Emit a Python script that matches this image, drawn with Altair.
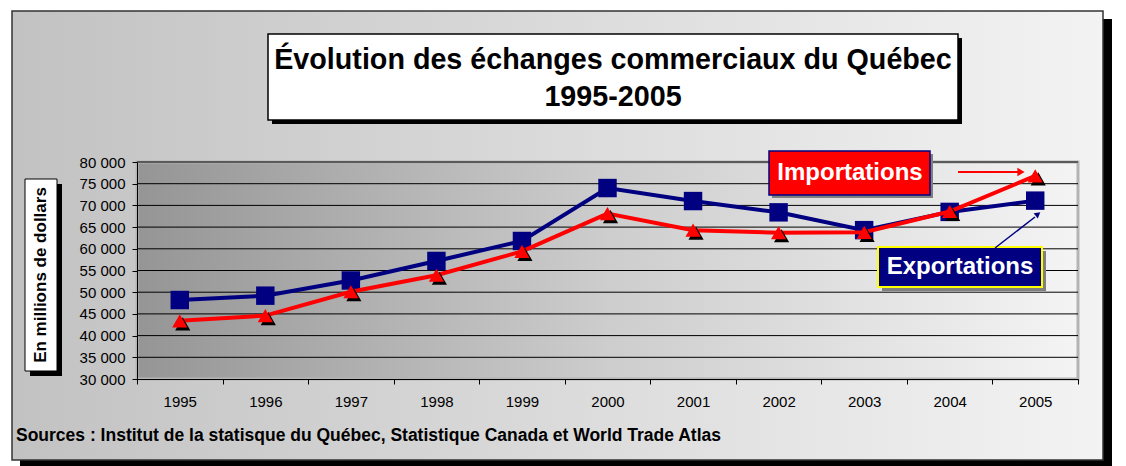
import altair as alt
import pandas as pd

# ---------------- data ----------------
YEARS = ["1995", "1996", "1997", "1998", "1999", "2000", "2001", "2002", "2003", "2004", "2005"]
EXPORTATIONS = [48200, 49200, 52700, 57200, 61800, 74000, 71000, 68400, 64300, 68500, 71100]
IMPORTATIONS = [43400, 44600, 50100, 53900, 59400, 68100, 64300, 63700, 63800, 68600, 76800]
SERIES = ["Exportations", "Importations"]
COLORS = ["#000080", "#ff0000"]
Y_TICKS = [30000, 35000, 40000, 45000, 50000, 55000, 60000, 65000, 70000, 75000, 80000]
TITLE_LINE1 = "Évolution des échanges commerciaux du Québec"
TITLE_LINE2 = "1995-2005"
Y_TITLE = "En millions de dollars"
SOURCE = "Sources : Institut de la statisque du Québec, Statistique Canada et World Trade Atlas"

FONT = "Liberation Sans"
W, H = 941, 217
OX, OY = 137, 162  # page position of the plot origin


def px(x):
    return x - OX


def py(y):
    return y - OY


one = pd.DataFrame({"k": [0]})


def box(x1, y1, x2, y2, **kw):
    return alt.Chart(one).mark_rect(**kw).encode(
        x=alt.value(px(x1)), x2=alt.value(px(x2)),
        y=alt.value(py(y1)), y2=alt.value(py(y2)))


def label(text, x, y, **kw):
    return alt.Chart(one).mark_text(text=text, font=FONT, **kw).encode(
        x=alt.value(px(x)), y=alt.value(py(y)))


def seg(x1, y1, x2, y2, **kw):
    return alt.Chart(one).mark_rule(**kw).encode(
        x=alt.value(px(x1)), x2=alt.value(px(x2)),
        y=alt.value(py(y1)), y2=alt.value(py(y2)))


def head(x, y, **kw):
    return alt.Chart(one).mark_point(filled=True, opacity=1, **kw).encode(
        x=alt.value(px(x)), y=alt.value(py(y)))


frame_grad = alt.Gradient(
    gradient="linear", x1=0, x2=1, y1=0, y2=0,
    stops=[alt.GradientStop(color="#c2c2c2", offset=0),
           alt.GradientStop(color="#f3f3f3", offset=1)])
plot_grad = alt.Gradient(
    gradient="linear", x1=0, x2=1, y1=0, y2=0,
    stops=[alt.GradientStop(color="#959595", offset=0),
           alt.GradientStop(color="#cdcdcd", offset=0.5),
           alt.GradientStop(color="#f4f4f4", offset=1)])

df = pd.DataFrame({
    "Année": YEARS * 2,
    "Série": ["Exportations"] * len(YEARS) + ["Importations"] * len(YEARS),
    "Valeur": EXPORTATIONS + IMPORTATIONS,
})
grid_df = pd.DataFrame({"Valeur": Y_TICKS[1:]})

xenc = alt.X("Année:O", scale=alt.Scale(type="band", paddingInner=0, paddingOuter=0),
             axis=alt.Axis(title=None, labelAngle=0, tickBand="extent", labelPadding=10,
                           zindex=1))
yenc = alt.Y("Valeur:Q", scale=alt.Scale(domain=[30000, 80000], nice=False, zero=False),
             axis=alt.Axis(values=Y_TICKS, grid=False, title=None, labelPadding=7, zindex=1,
                           labelExpr="replace(format(datum.value, ','), ',', ' ')"))
cenc = alt.Color("Série:N", scale=alt.Scale(domain=SERIES, range=COLORS), legend=None)

base = alt.Chart(df)
exp_line = base.transform_filter("datum['Série'] == 'Exportations'").mark_line(strokeWidth=4).encode(x=xenc, y=yenc, color=cenc)
exp_pts = base.transform_filter("datum['Série'] == 'Exportations'").mark_point(
    shape="square", filled=True, size=340, opacity=1).encode(x=xenc, y=yenc, color=cenc)
imp_line = base.transform_filter("datum['Série'] == 'Importations'").mark_line(strokeWidth=4).encode(x=xenc, y=yenc, color=cenc)
imp_shadow = base.transform_filter("datum['Série'] == 'Importations'").mark_point(
    shape="triangle-up", filled=True, size=230, opacity=1, color="black", xOffset=3, yOffset=3).encode(x=xenc, y=yenc)
imp_pts = base.transform_filter("datum['Série'] == 'Importations'").mark_point(
    shape="triangle-up", filled=True, size=230, opacity=1).encode(x=xenc, y=yenc, color=cenc)

gridlines = alt.Chart(grid_df).mark_rule(color="black", strokeWidth=1).encode(
    y=yenc, x=alt.value(0), x2=alt.value(W))

layers = [
    # outer frame
    box(20, 19, 1112, 468, color="black"),
    box(12, 11, 1103, 460, color=frame_grad, stroke="#333333", strokeWidth=1.5),
    # title box
    box(272, 38, 962, 124, color="black"),
    box(268, 34, 958, 120, color="white", stroke="black", strokeWidth=1.5),
    label(TITLE_LINE1, 613, 60, fontSize=28.7, fontWeight="bold", align="center", baseline="middle", color="black"),
    label(TITLE_LINE2, 613, 97, fontSize=28.7, fontWeight="bold", align="center", baseline="middle", color="black"),
    # y title box
    box(30, 184, 62, 376, color="black"),
    box(25, 179, 57, 371, color="white", stroke="black", strokeWidth=1),
    label(Y_TITLE, 41, 275, fontSize=17, fontWeight="bold", angle=270, align="center", baseline="middle", color="black"),
    # plot area
    box(OX, OY, OX + W, OY + H, color=plot_grad, stroke="#b4b4b4", strokeWidth=3),
    gridlines,
    exp_line, exp_pts, imp_line, imp_shadow, imp_pts,
    # Importations label
    box(772, 154, 933, 198, color="#808080"),
    box(769, 151, 930, 195, color="#ff0000", stroke="#000080", strokeWidth=1.5),
    label("Importations", 850, 173, fontSize=24, fontWeight="bold", align="center", baseline="middle", color="white"),
    seg(958, 172, 1018, 172, color="#ff0000", strokeWidth=2),
    head(1021, 172, shape="triangle-right", size=70, color="#ff0000"),
    # Exportations label
    box(882, 251, 1046, 291, color="#808080"),
    box(878, 247, 1042, 287, color="#000080", stroke="#ffff00", strokeWidth=2),
    label("Exportations", 960, 267, fontSize=24, fontWeight="bold", align="center", baseline="middle", color="white"),
    seg(995, 248, 1035, 217, color="#000080", strokeWidth=1.5),
    head(1038, 214, shape="triangle-up", angle=52, size=45, color="#000080"),
    # source
    label(SOURCE, 16, 436, fontSize=17.5, fontWeight="bold", align="left", baseline="middle", color="black"),
]

chart = alt.layer(*layers).properties(
    width=W, height=H,
    padding={"left": 129, "top": 154, "right": 40, "bottom": 88},
    autosize=alt.AutoSizeParams(type="none"),
    background="white",
).configure_view(stroke=None).configure_axis(
    labelFont=FONT, labelFontSize=15, labelColor="black",
    domainColor="black", domainWidth=1, tickColor="black", tickSize=5, tickWidth=1,
)

chart.save("out.html", embed_options={"renderer": "svg", "actions": False})
